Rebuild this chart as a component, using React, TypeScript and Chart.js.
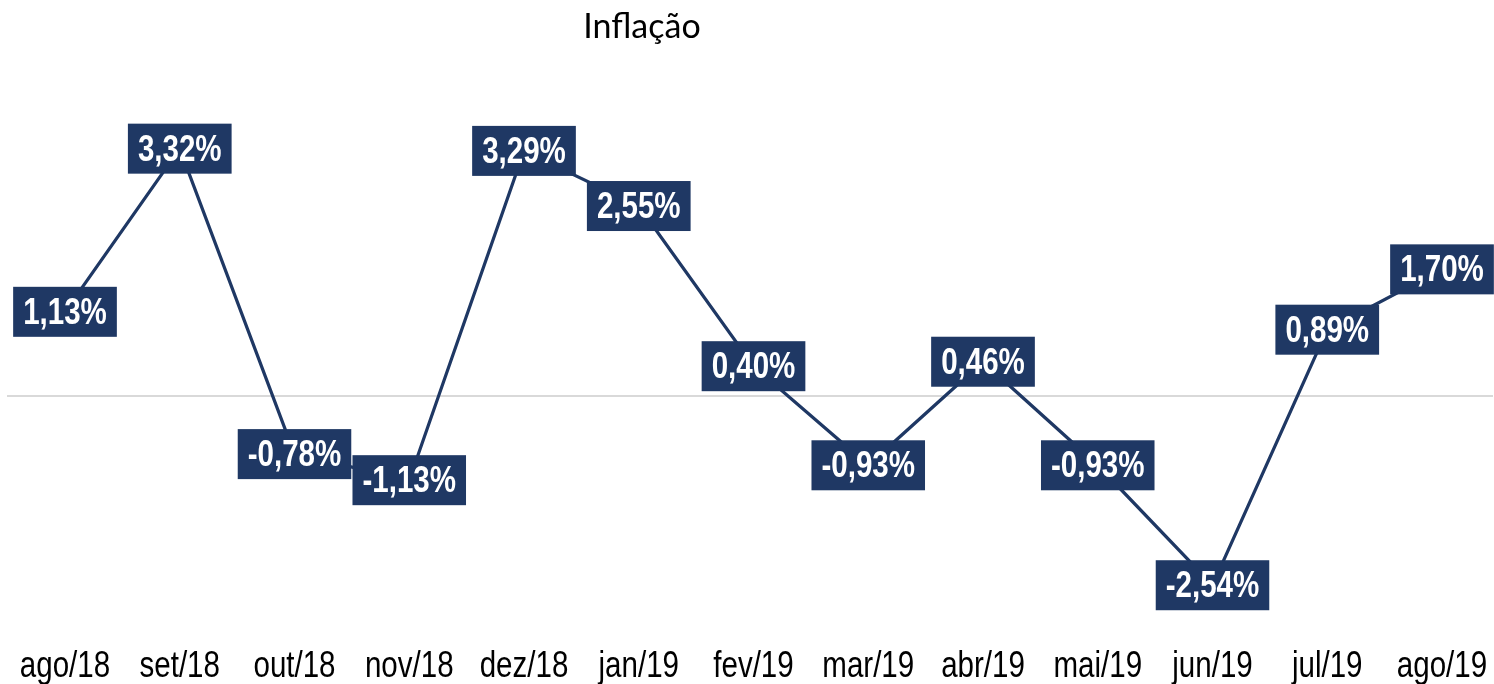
import React, { useEffect, useRef } from "react";
import { Chart, registerables } from "chart.js";

Chart.register(...registerables);

const categories = ["ago/18", "set/18", "out/18", "nov/18", "dez/18", "jan/19", "fev/19", "mar/19", "abr/19", "mai/19", "jun/19", "jul/19", "ago/19"];
const inflation = [1.13, 3.32, -0.78, -1.13, 3.29, 2.55, 0.4, -0.93, 0.46, -0.93, -2.54, 0.89, 1.7];
const titleText = "Inflação";

const NAVY = "#1f3864";
const SANS = "'Liberation Sans', Arial, sans-serif";
const SQUEEZE = 0.82;

const fmt = (v: number) => v.toFixed(2).replace(".", ",") + "%";

function narrowText(ctx: any, txt: string, x: number, y: number) {
  ctx.save();
  ctx.translate(x, y);
  ctx.scale(SQUEEZE, 1);
  ctx.fillText(txt, 0, 0);
  ctx.restore();
}

const zeroLinePlugin = {
  id: "zeroLine",
  beforeDatasetsDraw(chart: any) {
    const ctx = chart.ctx;
    const y = chart.scales.y.getPixelForValue(0);
    ctx.save();
    ctx.strokeStyle = "#d9d9d9";
    ctx.lineWidth = 2;
    ctx.beginPath();
    ctx.moveTo(7, y);
    ctx.lineTo(1493, y);
    ctx.stroke();
    ctx.restore();
  },
};

const labelPlugin = {
  id: "boxLabels",
  afterDatasetsDraw(chart: any) {
    const ctx = chart.ctx;
    const meta = chart.getDatasetMeta(0);
    ctx.save();
    ctx.font = `bold 36px ${SANS}`;
    ctx.textAlign = "center";
    ctx.textBaseline = "middle";
    meta.data.forEach((pt: any, i: number) => {
      const txt = fmt(inflation[i]);
      const w = ctx.measureText(txt).width * SQUEEZE + 20;
      const h = 50;
      ctx.fillStyle = NAVY;
      ctx.fillRect(pt.x - w / 2, pt.y - h / 2, w, h);
      ctx.fillStyle = "#ffffff";
      narrowText(ctx, txt, pt.x, pt.y + 2);
    });
    ctx.restore();
  },
};

const axisLabelPlugin = {
  id: "axisLabels",
  afterDraw(chart: any) {
    const ctx = chart.ctx;
    const xs = chart.scales.x;
    ctx.save();
    ctx.font = `36px ${SANS}`;
    ctx.fillStyle = "#000000";
    ctx.textAlign = "center";
    ctx.textBaseline = "alphabetic";
    categories.forEach((c, i) => {
      narrowText(ctx, c, xs.getPixelForValue(i), 677);
    });
    ctx.font = "34px Lato, 'Open Sans', sans-serif";
    ctx.fillText(titleText, 642, 38);
    ctx.restore();
  },
};

export default function App() {
  const ref = useRef<HTMLCanvasElement>(null);
  useEffect(() => {
    if (!ref.current) return;
    const chart = new Chart(ref.current, {
      type: "line",
      data: {
        labels: categories,
        datasets: [
          {
            data: inflation,
            borderColor: NAVY,
            borderWidth: 3.25,
            pointRadius: 0,
            tension: 0,
            fill: false,
          },
        ],
      },
      options: {
        animation: false,
        responsive: true,
        maintainAspectRatio: false,
        layout: { padding: { left: 65, right: 52, top: 98, bottom: 0 } },
        plugins: { legend: { display: false }, title: { display: false }, tooltip: { enabled: false } },
        scales: {
          x: {
            offset: false,
            grid: { display: false, drawTicks: false },
            border: { display: false },
            ticks: { display: false },
            afterFit: (s: any) => {
              s.height = 64.5;
            },
          },
          y: {
            display: false,
            min: -3,
            max: 4,
          },
        },
      },
      plugins: [zeroLinePlugin, labelPlugin, axisLabelPlugin],
    });
    return () => chart.destroy();
  }, []);
  return (
    <div style={{ position: "fixed", left: 0, top: 0, width: 1494, height: 684, background: "#fff" }}>
      <canvas ref={ref} />
    </div>
  );
}
